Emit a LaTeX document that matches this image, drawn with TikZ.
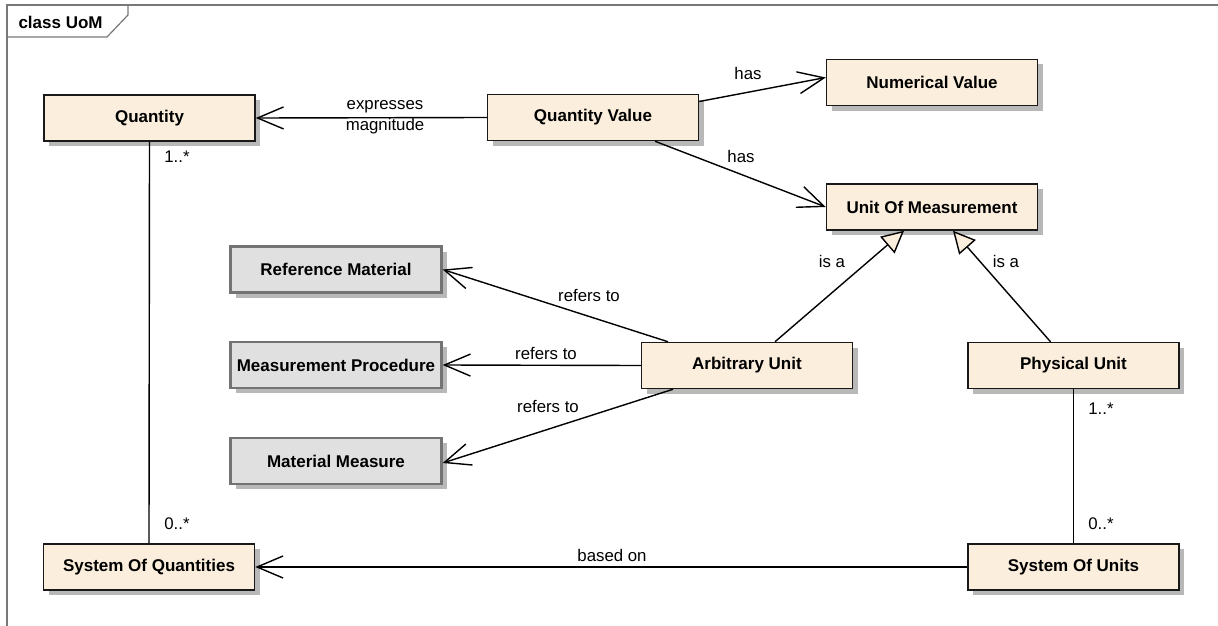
\documentclass[tikz,border=0pt]{standalone}
\usepackage{fontspec}
\setmainfont{Liberation Sans}
\usepackage{xcolor}
\usetikzlibrary{arrows.meta, shadows}

\definecolor{umlfill}{RGB}{251,238,220}
\definecolor{umlgray}{RGB}{224,224,224}
\definecolor{umlframe}{RGB}{120,120,120}

\begin{document}
\begin{tikzpicture}[
  x=1pt, y=-1pt,
  every node/.style={font=\fontsize{16.8}{19}\selectfont},
  cls/.style={draw=black!90, line width=1.5pt, fill=#1, minimum width=211pt, minimum height=46pt,
    inner sep=0pt, font=\fontsize{17}{19}\selectfont\bfseries,
    drop shadow={shadow xshift=5pt, shadow yshift=-5pt, fill=black!28, opacity=1}},
  cls/.default={umlfill},
  ext/.style={cls=umlgray, draw=black!55, line width=2.4pt},
  assoc/.style={line width=1.4pt, -{Straight Barb[length=26pt, width=22pt]}},
  gen/.style={line width=1.4pt, -{Triangle[length=22pt, width=22pt, fill=umlfill]}},
  link/.style={line width=1.4pt},
]
\useasboundingbox (0,0) rectangle (1218,626);

% Frame
\draw[umlframe, line width=1.2pt] (7,626) -- (7,5) -- (1218,5);
\draw[umlframe, line width=1.2pt] (7,37) -- (107,37) -- (128,15) -- (128,5);
\node[font=\fontsize{17}{19}\selectfont\bfseries, anchor=west] (title) at (15,22) {class UoM};

% Classes
\node[cls] (qty) at (149.5,118) {Quantity};
\node[cls] (qv) at (593,117.5) {Quantity Value};
\node[cls] (numval) at (932,82.5) {Numerical Value};
\node[cls] (uom) at (932,207) {Unit Of Measurement};
\node[cls] (arbunit) at (747,365.5) {Arbitrary Unit};
\node[cls] (physunit) at (1073.5,365.5) {Physical Unit};
\node[cls] (soq) at (149,567) {System Of Quantities};
\node[cls] (sou) at (1073.5,567) {System Of Units};

% External classes
\node[ext] (refmat) at (336,269.5) {Reference Material};
\node[ext] (mproc) at (336,365) {Measurement Procedure};
\node[ext] (matmeas) at (336,461) {Material Measure};

% Associations
\draw[assoc] (qv.west) -- (qty.east);
\draw[assoc] ([yshift=16pt]qv.east) -- ([yshift=5pt]numval.west);
\draw[assoc] ([xshift=62pt]qv.south) -- (uom.west);
\draw[assoc] ([xshift=-79pt]arbunit.north) -- (refmat.east);
\draw[assoc] (arbunit.west) -- (mproc.east);
\draw[assoc] ([xshift=-74pt]arbunit.south) -- ([yshift=-2pt]matmeas.east);
\draw[assoc] (sou.west) -- (soq.east);
\draw[link] (qty.south) -- (soq.north);
\draw[link] (physunit.south) -- (sou.north);

% Generalizations
\draw[gen] ([xshift=28pt]arbunit.north) -- ([xshift=-28pt]uom.south);
\draw[gen] ([xshift=-23pt]physunit.north) -- ([xshift=21pt]uom.south);

% Labels
\node (lblexpr) at (385,107) {expresses};
\node (lblmagn) at (385,126) {magnitude};
\node (lblhasnum) at (748,73) {has};
\node (lblhasunit) at (741,156) {has};
\node (lblisa1) at (832,261) {is a};
\node (lblisa2) at (1006,261) {is a};
\node (lblref1) at (589,296) {refers to};
\node (lblref2) at (546,353) {refers to};
\node (lblref3) at (548,406) {refers to};
\node (lblbased) at (612,555) {based on};
\node (mqty) at (177,157) {1..*};
\node (msoq) at (177,524) {0..*};
\node (mphys) at (1101,409) {1..*};
\node (msou) at (1101,524) {0..*};
\end{tikzpicture}
\end{document}
